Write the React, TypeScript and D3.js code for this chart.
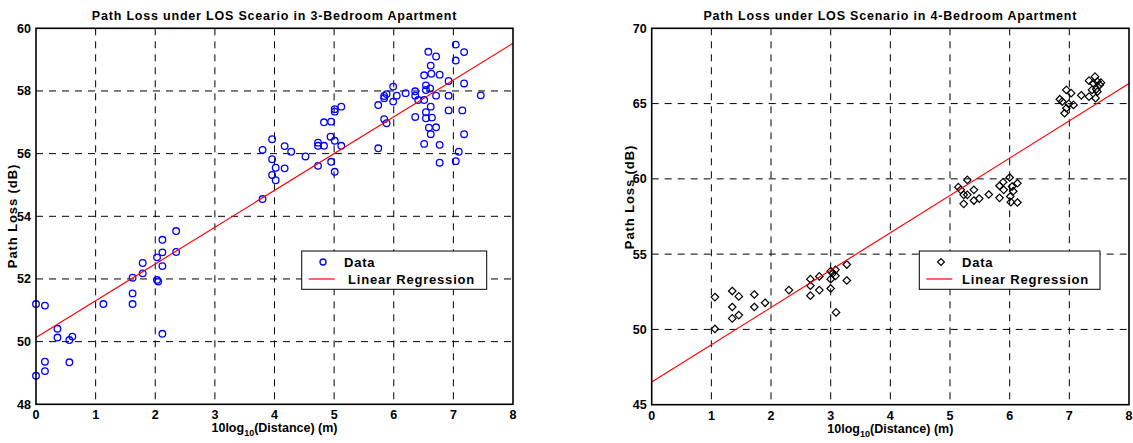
import React, { useEffect, useRef } from 'react';
import * as d3 from 'd3';

// 3-bedroom apartment, 10log10(distance) vs path loss (dB)
const bed3X = [
  0, 0.15, 0.36, 0.36, 0.56, 0.61, 0, 0.15, 0.15, 0.56,
  1.13, 1.62, 1.62, 1.62, 1.79, 1.79, 2.03, 2.03, 2.05, 2.12, 2.12, 2.12, 2.12, 2.35, 2.35,
  3.8, 3.96, 3.96, 4.02, 3.96, 4.02, 4.17, 4.28, 4.17, 3.8,
  4.52, 4.73, 4.73, 4.83, 4.73, 4.83, 4.95, 4.94, 5.01, 5.12, 4.95, 5.01, 5.01, 5.01, 5.12,
  5.74, 5.74, 5.84, 5.88, 5.84, 5.84, 5.88, 5.99, 5.99, 6.05, 6.2, 6.36, 6.36, 6.36, 6.41,
  6.51, 6.51, 6.51, 6.54, 6.54, 6.54, 6.54, 6.58, 6.59, 6.61, 6.62, 6.62, 6.63, 6.62, 6.64,
  6.71, 6.71, 6.71, 6.77, 6.77, 6.77, 6.92, 6.92, 6.92, 7.04, 7.04, 7.04, 7.09, 7.18, 7.18, 7.15, 7.18, 7.46,
];
const bed3Y = [
  51.2, 51.15, 50.41, 50.13, 50.05, 50.16, 48.91, 49.36, 49.06, 49.34,
  51.2, 52.04, 51.54, 51.2, 52.51, 52.18, 52.69, 51.97, 51.92, 53.25, 52.85, 52.41, 50.25, 53.53, 52.86,
  56.12, 56.46, 55.82, 55.55, 55.32, 55.15, 56.24, 56.06, 55.53, 54.55,
  55.91, 56.35, 56.25, 56.25, 55.61, 57.0, 57.02, 56.54, 56.41, 56.25, 55.74, 55.42, 57.42, 57.34, 57.5,
  56.17, 57.55, 57.1, 56.97, 57.84, 57.77, 57.9, 58.14, 57.66, 57.85, 57.93, 57.99, 57.85, 57.17, 57.71,
  58.5, 57.71, 56.31, 58.18, 58.03, 57.32, 57.13, 59.25, 56.83, 58.08, 58.81, 57.5, 58.55, 56.62, 57.15,
  59.1, 57.85, 56.84, 58.52, 56.28, 55.71, 58.32, 57.85, 57.38, 59.48, 58.97, 55.76, 56.06, 59.24, 58.24, 57.38, 56.62, 57.86,
];
const bed3Fit = [50.13, 1.174]; // intercept, slope

// 4-bedroom apartment
const bed4X = [
  1.06, 1.06, 1.35, 1.35, 1.35, 1.46, 1.46, 1.72, 1.72, 1.9, 2.3, 2.66, 2.66, 2.66, 2.81, 2.81, 3.0, 3.0, 3.0, 3.08, 3.08, 3.09, 3.27, 3.27, 3.04,
  5.14, 5.29, 5.23, 5.23, 5.29, 5.4, 5.4, 5.49, 5.18, 5.65, 5.83, 5.83, 5.89, 6.0, 6.01, 6.02, 6.06, 6.13, 6.13, 6.04, 5.9,
  6.84, 6.95, 7.03, 6.92, 6.95, 6.99, 7.07, 6.88, 7.2, 7.33, 7.33, 7.4, 7.43, 7.47, 7.51, 7.53, 7.38, 7.45, 7.44, 7.47,
];
const bed4Y = [
  52.15, 50.03, 52.55, 51.49, 50.73, 52.19, 50.95, 52.32, 51.49, 51.77, 52.61, 53.34, 52.9, 52.24, 53.52, 52.61, 53.34, 53.87, 52.72, 53.96, 53.56, 51.13, 54.31, 53.25, 53.74,
  59.45, 59.93, 58.94, 58.34, 58.94, 59.27, 58.56, 58.69, 59.27, 58.96, 59.54, 58.74, 59.78, 60.09, 58.83, 58.45, 59.18, 59.71, 58.43, 59.49, 59.27,
  65.29, 65.91, 65.69, 64.36, 64.69, 64.98, 64.91, 65.13, 65.55, 66.52, 65.46, 66.35, 66.79, 66.46, 66.24, 66.39, 65.91, 65.95, 65.36, 65.79,
];
const bed4Fit = [46.5, 2.48];

const xTicks = [0, 1, 2, 3, 4, 5, 6, 7, 8];
const bed3YTicks = [48, 50, 52, 54, 56, 58, 60];
const bed4YTicks = [45, 50, 55, 60, 65, 70];

const FONT = '"Liberation Sans", Arial, sans-serif';

interface PanelOpts {
  left: number;
  right: number;
  top: number;
  bottom: number;
  yDomain: [number, number];
  yTicks: number[];
  xs: number[];
  ys: number[];
  fit: number[];
  title: string;
  marker: 'circle' | 'diamond';
  yLabelX: number;
  yLabelY: number;
  legend: { x: number; y: number; w: number; h: number; textX: number; text2X: number };
}

const drawPanel = (svg: d3.Selection<SVGSVGElement, unknown, null, undefined>, o: PanelOpts) => {
  const x = d3.scaleLinear().domain([0, 8]).range([o.left, o.right]);
  const y = d3.scaleLinear().domain(o.yDomain).range([o.bottom, o.top]);
  const g = svg.append('g');

  // grid
  g.selectAll('.vgrid')
    .data(xTicks.slice(1, -1))
    .enter()
    .append('line')
    .attr('x1', (d) => x(d))
    .attr('x2', (d) => x(d))
    .attr('y1', o.top)
    .attr('y2', o.bottom)
    .attr('stroke', '#000')
    .attr('stroke-width', 1)
    .attr('stroke-dasharray', '7,6');
  g.selectAll('.hgrid')
    .data(o.yTicks.slice(1, -1))
    .enter()
    .append('line')
    .attr('x1', o.left)
    .attr('x2', o.right)
    .attr('y1', (d) => y(d))
    .attr('y2', (d) => y(d))
    .attr('stroke', '#000')
    .attr('stroke-width', 1)
    .attr('stroke-dasharray', '7,6');

  // data
  const pts = o.xs.map((v, i) => [v, o.ys[i]]);
  if (o.marker === 'circle') {
    g.selectAll('.pt')
      .data(pts)
      .enter()
      .append('circle')
      .attr('cx', (d) => x(d[0]))
      .attr('cy', (d) => y(d[1]))
      .attr('r', 3.3)
      .attr('fill', 'none')
      .attr('stroke', '#0000ff')
      .attr('stroke-width', 1.3);
  } else {
    const sym = d3.symbol().type(d3.symbolDiamond2).size(36);
    g.selectAll('.pt')
      .data(pts)
      .enter()
      .append('path')
      .attr('d', sym()!)
      .attr('transform', (d) => `translate(${x(d[0])},${y(d[1])})`)
      .attr('fill', 'none')
      .attr('stroke', '#000')
      .attr('stroke-width', 1.2);
  }

  // regression line
  const line = d3
    .line<number>()
    .x((d) => x(d))
    .y((d) => y(o.fit[0] + o.fit[1] * d));
  g.append('path')
    .attr('d', line([0, 8])!)
    .attr('fill', 'none')
    .attr('stroke', '#ff0000')
    .attr('stroke-width', 1.2);

  // box
  g.append('rect')
    .attr('x', o.left)
    .attr('y', o.top)
    .attr('width', o.right - o.left)
    .attr('height', o.bottom - o.top)
    .attr('fill', 'none')
    .attr('stroke', '#000')
    .attr('stroke-width', 1.6);

  // tick labels
  g.selectAll('.xt')
    .data(xTicks)
    .enter()
    .append('text')
    .attr('x', (d) => x(d))
    .attr('y', o.bottom + 15)
    .attr('text-anchor', 'middle')
    .style('font', `bold 12.5px ${FONT}`)
    .text((d) => d);
  g.selectAll('.yt')
    .data(o.yTicks)
    .enter()
    .append('text')
    .attr('x', o.left - 5)
    .attr('y', (d) => y(d) + 4.5)
    .attr('text-anchor', 'end')
    .style('font', `bold 12.5px ${FONT}`)
    .text((d) => d);

  // title
  g.append('text')
    .attr('x', (o.left + o.right) / 2)
    .attr('y', 20)
    .attr('text-anchor', 'middle')
    .style('font', `bold 12.5px ${FONT}`)
    .style('letter-spacing', '0.8px')
    .text(o.title);

  // x label
  const xl = g
    .append('text')
    .attr('x', (o.left + o.right) / 2)
    .attr('y', o.bottom + 28)
    .attr('text-anchor', 'middle')
    .style('font', `bold 12.5px ${FONT}`);
  xl.append('tspan').text('10log');
  xl.append('tspan').attr('dy', 4).style('font-size', '9px').text('10');
  xl.append('tspan').attr('dy', -4).text('(Distance) (m)');

  // y label
  g.append('text')
    .attr('transform', `translate(${o.yLabelX},${o.yLabelY}) rotate(-90)`)
    .attr('text-anchor', 'middle')
    .style('font', `bold 13px ${FONT}`)
    .style('letter-spacing', '0.9px')
    .text('Path Loss (dB)');

  // legend
  const L = o.legend;
  const lg = g.append('g');
  lg.append('rect')
    .attr('x', L.x)
    .attr('y', L.y)
    .attr('width', L.w)
    .attr('height', L.h)
    .attr('fill', '#fff')
    .attr('stroke', '#000')
    .attr('stroke-width', 1);
  const mx = L.textX - 21;
  if (o.marker === 'circle') {
    lg.append('circle')
      .attr('cx', mx)
      .attr('cy', L.y + 11)
      .attr('r', 3)
      .attr('fill', 'none')
      .attr('stroke', '#0000ff')
      .attr('stroke-width', 1.3);
  } else {
    lg.append('path')
      .attr('d', d3.symbol().type(d3.symbolDiamond2).size(30)()!)
      .attr('transform', `translate(${mx},${L.y + 11})`)
      .attr('fill', 'none')
      .attr('stroke', '#000')
      .attr('stroke-width', 1.2);
  }
  lg.append('line')
    .attr('x1', L.x + 7)
    .attr('x2', L.x + 33)
    .attr('y1', L.y + 28)
    .attr('y2', L.y + 28)
    .attr('stroke', '#ff0000')
    .attr('stroke-width', 1.2);
  lg.append('text')
    .attr('x', L.textX)
    .attr('y', L.y + 16)
    .style('font', `bold 13px ${FONT}`)
    .style('letter-spacing', '0.8px')
    .text('Data');
  lg.append('text')
    .attr('x', L.text2X)
    .attr('y', L.y + 33)
    .style('font', `bold 13px ${FONT}`)
    .style('letter-spacing', '0.8px')
    .text('Linear Regression');
};

const App: React.FC = () => {
  const ref = useRef<SVGSVGElement>(null);

  useEffect(() => {
    const svg = d3.select(ref.current!);
    svg.selectAll('*').remove();

    drawPanel(svg, {
      left: 36,
      right: 513,
      top: 28.3,
      bottom: 404.3,
      yDomain: [48, 60],
      yTicks: bed3YTicks,
      xs: bed3X,
      ys: bed3Y,
      fit: bed3Fit,
      title: 'Path Loss under LOS Scea' + 'rio in 3-Bedroom Apartment',
      marker: 'circle',
      yLabelX: 17,
      yLabelY: 216,
      legend: { x: 301.7, y: 251, w: 185, h: 38.3, textX: 344, text2X: 348 },
    });

    drawPanel(svg, {
      left: 651.7,
      right: 1129,
      top: 28.3,
      bottom: 404.7,
      yDomain: [45, 70],
      yTicks: bed4YTicks,
      xs: bed4X,
      ys: bed4Y,
      fit: bed4Fit,
      title: 'Path Loss under LOS Scenario in 4-Bedroom Apartment',
      marker: 'diamond',
      yLabelX: 634,
      yLabelY: 197,
      legend: { x: 919.3, y: 251, w: 180.7, h: 38.3, textX: 962, text2X: 962 },
    });
  }, []);

  return (
    <svg
      ref={ref}
      width={1133}
      height={443}
      style={{ position: 'absolute', left: 0, top: 0, background: '#fff' }}
    />
  );
};

export default App;
